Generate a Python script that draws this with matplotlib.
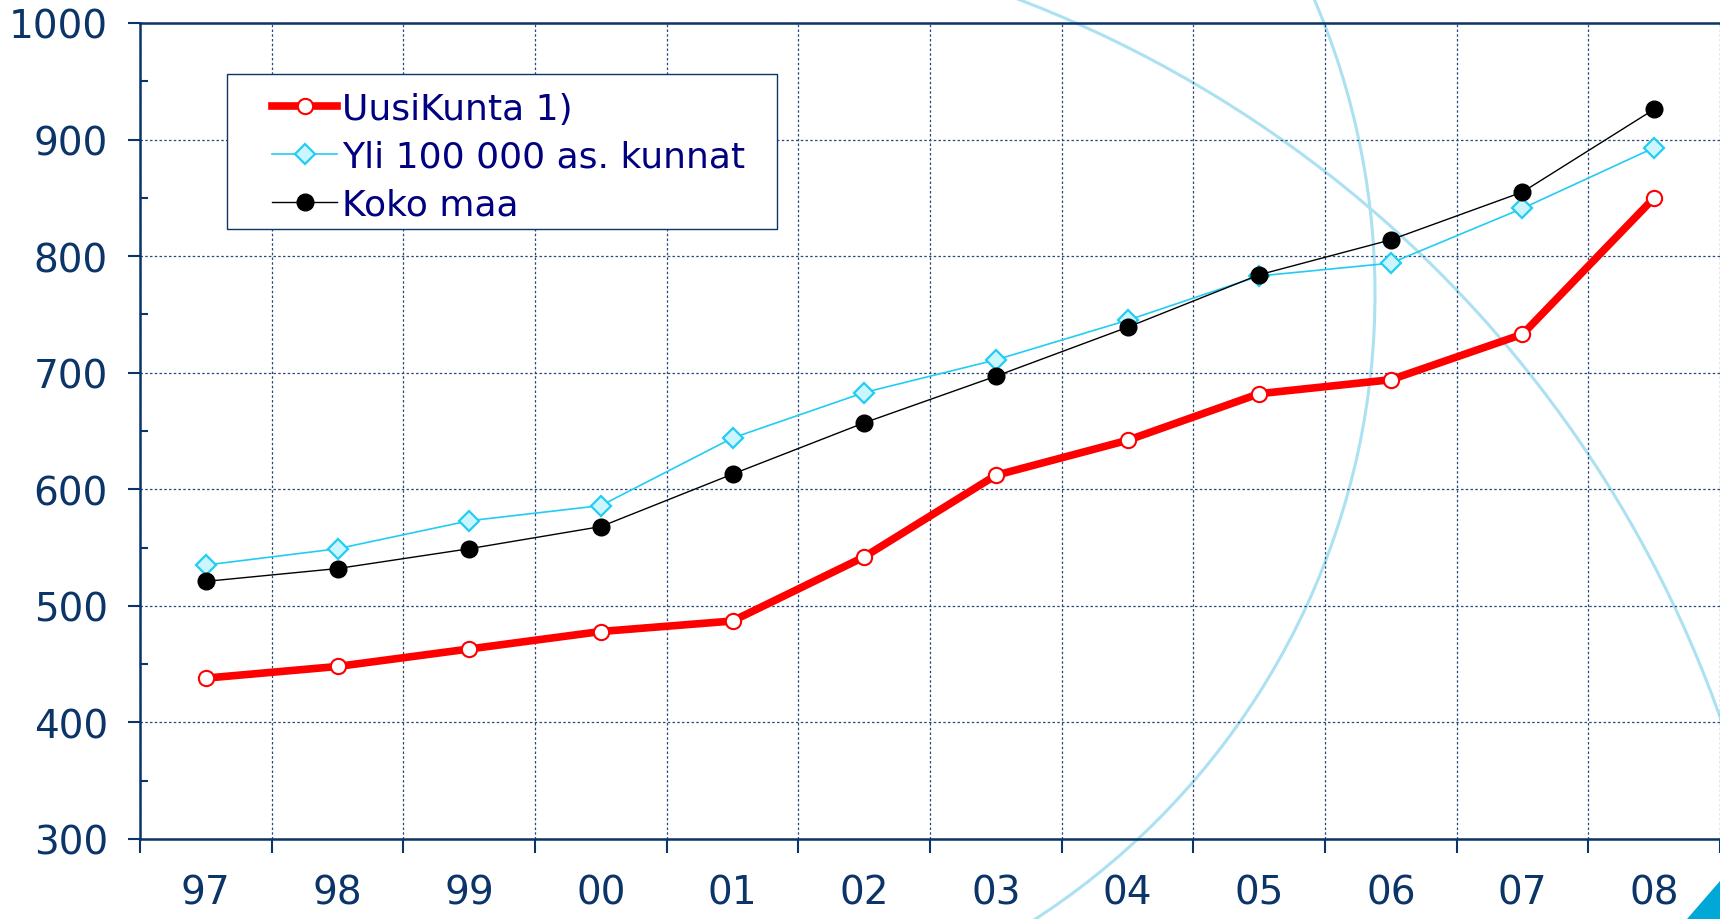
import numpy as np
import matplotlib
matplotlib.use('Agg')
import matplotlib.pyplot as plt
from matplotlib.patches import Arc, Polygon, Rectangle

# values
years = ['97', '98', '99', '00', '01', '02', '03', '04', '05', '06', '07', '08']
uusikunta = [438, 448, 463, 478, 487, 542, 612, 642, 682, 694, 733, 850]
yli_100k = [535, 549, 573, 586, 644, 683, 711, 745, 783, 794, 841, 893]
koko_maa = [521, 532, 549, 568, 613, 657, 697, 739, 784, 814, 855, 926]
labels = ['UusiKunta 1)', 'Yli 100 000 as. kunnat', 'Koko maa']

NAVY = '#0b3468'
TEXT_NAVY = '#000080'
GRID = '#2a4a7a'
ARC = '#ace1f2'
W, H = 1720, 920

plt.rcParams['font.family'] = ['DejaVu Sans']

fig = plt.figure(figsize=(W / 100, H / 100), dpi=100, facecolor='white')

# background decoration, in pixel coordinates
bg = fig.add_axes([0, 0, 1, 1], zorder=0)
bg.set_xlim(0, W)
bg.set_ylim(H, 0)
bg.axis('off')
bg.add_patch(Arc((591, 1120), 2397, 2397, theta1=-75, theta2=-5,
                 color=ARC, lw=2.2))
bg.add_patch(Arc((630, 295), 1490, 1490, theta1=-30, theta2=70,
                 color=ARC, lw=2.2))
bg.add_patch(Polygon([(1687, 920), (1720, 882), (1720, 920)],
                     closed=True, color='#00a8d8', lw=0))

ax = fig.add_axes([140 / W, 80 / H, 1580 / W, 816 / H], zorder=1)
ax.set_facecolor('none')

x = np.arange(len(years))
ax.plot(x, uusikunta, color='#ff0000', lw=5.5, marker='o', ms=11,
        mfc='white', mec='#ff0000', mew=1.5, label=labels[0])
ax.plot(x, yli_100k, color='#22ccf4', lw=1.2, marker='D', ms=10,
        mfc='#ccf6ff', mec='#22ccf4', mew=1.6, label=labels[1])
ax.plot(x, koko_maa, color='black', lw=1, marker='o', ms=12,
        mfc='black', mec='black', label=labels[2])

ax.set_xlim(-0.5, len(years) - 0.5)
ax.set_ylim(300, 1000)

ax.set_xticks(np.arange(-0.5, len(years), 1))
ax.set_xticklabels([])
ax.set_xticks(x, labels=years, minor=True)
ax.set_yticks(np.arange(300, 1001, 100))
ax.set_yticks(np.arange(350, 1000, 100), minor=True)

ax.tick_params(axis='x', which='major', direction='out', length=10,
               width=1.5, color=NAVY)
ax.tick_params(axis='x', which='minor', length=0, pad=25,
               labelsize=28, labelcolor=NAVY)
ax.tick_params(axis='y', which='major', direction='out', length=9,
               width=1.5, color=NAVY, pad=14, labelsize=28, labelcolor=NAVY)
ax.tick_params(axis='y', which='minor', direction='in', length=6,
               width=1.5, color=NAVY)

ax.grid(which='major', color=GRID, lw=0.9, linestyle=(0, (2, 1.8)))

for side in ['left', 'bottom', 'top']:
    ax.spines[side].set_color(NAVY)
    ax.spines[side].set_linewidth(1.8)
ax.spines['right'].set_visible(False)

# legend box drawn by hand so its padding can match
ax.add_patch(Rectangle((227 / W, 1 - 230 / H), 550 / W, 155 / H,
                       transform=fig.transFigure, facecolor='white',
                       edgecolor=NAVY, lw=1, zorder=4, clip_on=False))
leg = ax.legend(loc='upper left', bbox_to_anchor=(272 / W, 1 - 93 / H),
                bbox_transform=fig.transFigure, frameon=False,
                borderpad=0, borderaxespad=0, handlelength=1.8,
                handletextpad=0.15, labelspacing=0.38,
                prop={'size': 26})
leg.set_zorder(5)
for t in leg.get_texts():
    t.set_color(TEXT_NAVY)

fig.savefig('out.png', dpi=100, facecolor='white')
